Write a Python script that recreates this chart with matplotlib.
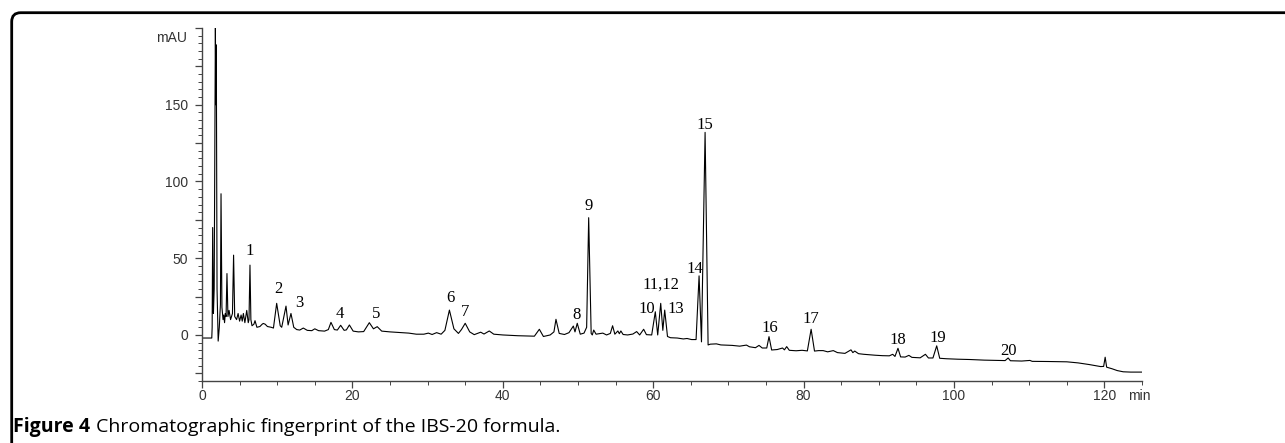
import matplotlib
matplotlib.use("Agg")
import matplotlib.pyplot as plt
from matplotlib.patches import FancyBboxPatch
from matplotlib.ticker import FixedLocator, MultipleLocator, FuncFormatter

# chromatogram trace: retention time (min) / absorbance (mAU)
time_min = [0, 1.3, 1.35, 1.42, 1.52, 1.62, 1.78, 1.84, 1.9, 2.0, 2.15, 2.3, 2.45, 2.53, 2.65,
            2.8, 2.9, 3.0, 3.1, 3.2, 3.32, 3.45, 3.6, 3.8, 4.05, 4.2, 4.35, 4.6, 4.8, 5.0,
            5.2, 5.35, 5.5, 5.7, 5.95, 6.15, 6.25, 6.38, 6.5, 6.65, 6.9, 7.05, 7.3, 7.7, 8.0,
            8.15, 8.4, 8.7, 9.2, 9.5, 9.93, 10.4, 10.6, 11.17, 11.45, 11.83, 12.2, 12.6, 13.0,
            13.47, 14.0, 14.6, 15.0, 15.5, 16.3, 16.8, 17.15, 17.6, 18.0, 18.44, 18.9, 19.2,
            19.6, 20.1, 20.8, 21.5, 22.25, 22.8, 23.3, 23.9, 25, 26.5, 27.5, 28.5, 29.5, 30.1,
            30.6, 31.2, 31.8, 32.3, 32.9, 33.5, 34.1, 34.5, 35.0, 35.6, 36.2, 37.06, 37.5, 38.2,
            38.8, 40, 42, 44.2, 44.86, 45.4, 46.3, 46.8, 47.07, 47.5, 48.2, 48.8, 49.38, 49.6,
            49.9, 50.3, 50.8, 51.15, 51.42, 51.75, 51.9, 52.09, 52.4, 53.3, 53.8, 54.3, 54.6,
            54.9, 55.3, 55.5, 55.7, 56.0, 56.6, 57.3, 57.8, 58.2, 58.73, 59.1, 59.8, 60.28,
            60.6, 61.0, 61.28, 61.53, 61.9, 62.3, 63.2, 64.0, 64.5, 65.1, 65.7, 66.1, 66.42,
            66.9, 67.3, 67.6, 68.4, 69.0, 70.5, 71.5, 72.4, 72.8, 73.6, 74.07, 74.5, 75.1,
            75.4, 75.75, 76.5, 77.2, 77.45, 77.75, 78.1, 79, 79.8, 80.5, 81.0, 81.45, 82.0,
            82.6, 83.2, 83.95, 84.5, 85.5, 86.3, 86.55, 86.8, 87.3, 88, 89.5, 90.5, 91.4,
            91.85, 92.15, 92.55, 92.9, 93.5, 94.0, 94.4, 95.5, 96.2, 96.6, 97.2, 97.7, 98.1,
            99, 100.5, 102.1, 104, 106.8, 107.2, 107.5, 109, 110.1, 110.4, 112.5, 115, 116.5,
            118, 119.5, 119.9, 120.1, 120.3, 121.0, 121.7, 122.5, 123.5, 125]
absorbance = [-2, -2, 5, 70, 14, 30, 200, 150, 189, 30, -4, 5, 20, 92, 18,
              10, 13, 8, 14, 12, 40, 12, 16, 10, 14, 52, 12, 10, 14, 9,
              13, 9, 14, 8, 16, 8, 10, 45.5, 10, 6, 7, 9.3, 5, 5.5, 7,
              7.5, 7, 5.5, 5, 4.5, 20.6, 6, 5, 18.8, 6.5, 14, 5, 3.5, 3.2,
              4.5, 3, 2.8, 4, 2.8, 2.5, 3.5, 8.2, 3.5, 3.2, 6.3, 3, 3.3,
              6.5, 2.5, 2, 2.2, 8, 4, 5.4, 2.5, 2, 1.5, 1.2, 0.5, 0.5, 1.2,
              0.3, 1.5, 0.5, 3, 16.2, 4, 1, 3.5, 7.6, 2, 0.2, 1.8, 0.6, 2.6,
              0.5, 0, -0.5, -0.8, 3.7, -1, 0, 2, 10.2, 1, 0.3, 1.5, 5.8, 2,
              7.6, 0.5, 1.2, 5, 76.4, 1, 0, 3.2, 0.5, 1.2, 0, 1, 6,
              0.5, 2.6, 0.8, 2.6, 0.3, 0, 0.6, 2.2, 0, 3.7, 0.2, 0, 15.1,
              0, 20.6, 3, 16.2, -1, -1.8, -2, -2.6, -2.3, -3, -3, 38.5, -4.5,
              132, -6.5, -6, -5.8, -6.5, -6.8, -7.3, -6.6, -7.7, -8.3, -6.8, -8.5, -8.5,
              -1.1, -9.8, -9.5, -8.5, -9.7, -7.6, -10, -10.3, -10, -10.4, 3.7, -10.5, -10.2,
              -10.2, -11, -10.2, -11.5, -12, -9.7, -11.5, -10.5, -12.2, -12.6, -13.2, -13.5, -13.6,
              -12.6, -14, -8.7, -14.3, -14.4, -13.3, -14.6, -14.9, -12.6, -15, -15, -7.1, -15.2,
              -15.5, -15.8, -16, -16.4, -16.7, -15.0, -16.8, -17, -16.6, -17.2, -17.3, -17.5, -18.2,
              -19.3, -20.6, -20.5, -14.5, -21, -22, -23.2, -24, -24.2, -24.2]

# numbered peak labels and where they sit
peak_labels = ["1", "2", "3", "4", "5", "6", "7", "8", "9", "10", "11,12", "13", "14", "15",
               "16", "17", "18", "19", "20"]
label_t = [6.38, 10.1, 12.9, 18.35, 23.2, 33.0, 35.0, 49.8, 51.45, 59.1, 61.0, 63.0, 65.6,
           66.9, 75.5, 81.0, 92.6, 97.8, 107.2]
label_v = [55, 29.7, 21, 13.6, 13.6, 24.2, 15, 13, 83.8, 16.9, 32.5, 16.7, 42.7, 137,
           4.8, 10.2, -3.2, -1.7, -10.2]

x_ticks = [0, 20, 40, 60, 80, 100, 120]
y_ticks = [-25, 0, 25, 50, 75, 100, 125, 150, 175, 200]
y_labelled = [0, 50, 100, 150]

fig = plt.figure(figsize=(12.85, 4.43), dpi=100)
ax = fig.add_axes([202 / 1285, 1 - 381 / 443, 940 / 1285, 353 / 443])

ax.plot(time_min, absorbance, color="black", lw=0.8)

for lab, t, v in zip(peak_labels, label_t, label_v):
    ax.text(t, v, lab, ha="center", va="center", fontsize=12, family="Liberation Serif")

ax.set_xlim(0, 125)
ax.set_ylim(-30, 200)

ax.xaxis.set_major_locator(FixedLocator(x_ticks))
ax.xaxis.set_minor_locator(MultipleLocator(5))
ax.yaxis.set_major_locator(FixedLocator(y_ticks))
ax.yaxis.set_minor_locator(MultipleLocator(5))
ax.yaxis.set_major_formatter(FuncFormatter(lambda v, p: "%d" % v if v in y_labelled else ""))

for s in ["top", "right"]:
    ax.spines[s].set_visible(False)
for s in ["left", "bottom"]:
    ax.spines[s].set_color("#444444")
    ax.spines[s].set_linewidth(1.0)

ax.tick_params(which="major", length=5, width=0.9, color="#444444", labelsize=10)
ax.tick_params(which="minor", length=3, width=0.7, color="#444444")
ax.tick_params(axis="y", pad=5)
ax.tick_params(axis="x", pad=0.5)
for lbl in ax.get_xticklabels() + ax.get_yticklabels():
    lbl.set_family("Liberation Sans")
    lbl.set_color("#333333")

ax.text(-0.016, 0.971, "mAU", transform=ax.transAxes, ha="right", va="center",
        fontsize=10, family="Liberation Sans", color="#333333")
ax.text(124.7, -35.5, "min", ha="center", va="top", fontsize=10,
        family="Liberation Sans", color="#333333")

# rounded frame of the journal figure, open to the right and bottom
frame = FancyBboxPatch((0.117, -1.0), 20, 4.43 - 0.127 + 1.0,
                       boxstyle="round,pad=0,rounding_size=0.09",
                       transform=fig.dpi_scale_trans, fill=False, lw=2.0,
                       edgecolor="black", clip_on=False)
fig.add_artist(frame)

# caption
cap1 = fig.text(13 / 1285, 1 - 427 / 443, "Figure 4", fontsize=14, fontweight="bold",
                family="Open Sans", va="center", ha="left")
fig.canvas.draw()
bb = cap1.get_window_extent()
fig.text(bb.x1 / 1285 + 6 / 1285, 1 - 427 / 443,
         "Chromatographic fingerprint of the IBS-20 formula.", fontsize=14,
         family="Open Sans", va="center", ha="left")

fig.savefig("out.png", dpi=100)
